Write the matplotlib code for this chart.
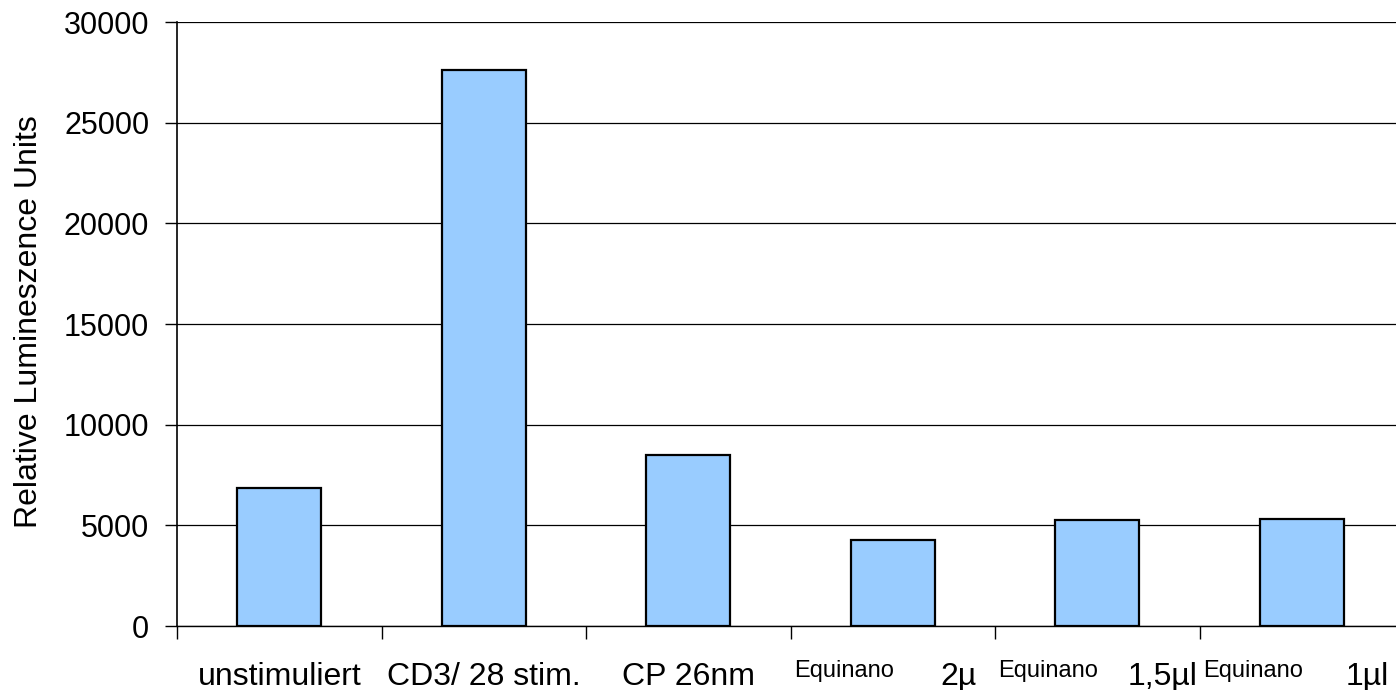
import numpy as np
import matplotlib
matplotlib.use("Agg")
import matplotlib.pyplot as plt
import matplotlib.transforms as mtransforms

plt.rcParams['font.family'] = ['Liberation Sans', 'DejaVu Sans']

# luminescence readout per condition
labels_main = ["unstimuliert", "CD3/ 28 stim.", "CP 26nm", "Equinano", "Equinano", "Equinano"]
labels_dose = ["", "", "", "2µ", "1,5µl", "1µl"]
values = [6850, 27600, 8500, 4250, 5250, 5300]
yticks = [0, 5000, 10000, 15000, 20000, 25000, 30000]

fig = plt.figure(figsize=(13.96, 6.9), dpi=100)
ax = fig.add_axes([177 / 1396, 64 / 690, 1227 / 1396, 604 / 690])

x = np.arange(len(values)) + 0.5
ax.bar(x, values, width=0.41, color="#99CCFF", edgecolor="black", linewidth=1.6, zorder=3)

ax.set_xlim(0, len(values))
ax.set_ylim(0, 30000)
ax.set_yticks(yticks)
ax.set_yticklabels([str(t) for t in yticks], fontsize=22)
ax.yaxis.grid(True, color="black", linewidth=0.9, zorder=0)
ax.set_axisbelow(True)

ax.set_xticks(np.arange(len(values) + 1))
ax.set_xticklabels([])
ax.tick_params(axis="x", length=9, width=1, direction="out")
ax.tick_params(axis="y", length=9, width=1, direction="out", pad=11)

for side in ["top", "right"]:
    ax.spines[side].set_visible(False)
ax.spines["left"].set_linewidth(1.2)
ax.spines["bottom"].set_linewidth(1.0)

fig.text(29 / 1396, 1 - 322 / 690, "Relative Lumineszence Units", rotation=90,
         ha="center", va="center", fontsize=23)

# category names under each bar; the Equinano groups carry a small name plus a dose
trans = mtransforms.blended_transform_factory(ax.transData, ax.transAxes)
for i, (main, dose) in enumerate(zip(labels_main, labels_dose)):
    if dose:
        ax.text(i + 0.26, -0.085, main, transform=trans, ha="center", va="baseline", fontsize=17)
        ax.text(i + 0.82, -0.098, dose, transform=trans, ha="center", va="baseline", fontsize=23)
    else:
        ax.text(i + 0.5, -0.098, main, transform=trans, ha="center", va="baseline", fontsize=23)

fig.savefig("out.png", dpi=100)
